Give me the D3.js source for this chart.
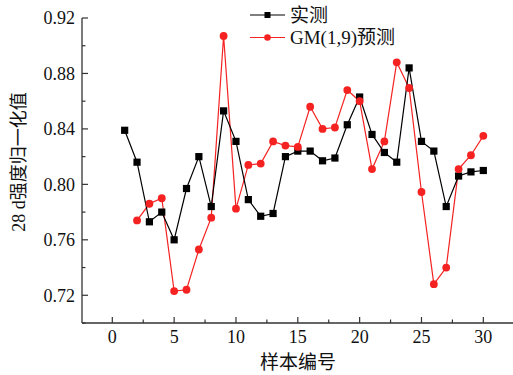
<!DOCTYPE html>
<html>
<head>
<meta charset="utf-8">
<script src="https://cdn.jsdelivr.net/npm/d3@7"></script>
<style>
  html, body { margin: 0; padding: 0; background: #fff; }
  svg { display: block; }
</style>
</head>
<body>
<svg id="chart" width="513" height="375"></svg>
<script>
// 样本编号
const samples = d3.range(1, 31);
// 实测 (样本 1-30)
const measured = [0.839, 0.816, 0.773, 0.780, 0.760, 0.797, 0.820, 0.784, 0.853, 0.831,
                  0.789, 0.777, 0.779, 0.820, 0.824, 0.824, 0.817, 0.819, 0.843, 0.863,
                  0.836, 0.823, 0.816, 0.884, 0.831, 0.824, 0.784, 0.806, 0.809, 0.810];
// GM(1,9)预测 (样本 2-30)
const predSamples = d3.range(2, 31);
const predicted = [0.774, 0.786, 0.790, 0.723, 0.724, 0.753, 0.776, 0.907, 0.7825,
                   0.814, 0.815, 0.831, 0.828, 0.827, 0.856, 0.840, 0.841, 0.868, 0.860,
                   0.811, 0.831, 0.888, 0.8695, 0.7945, 0.728, 0.740, 0.811, 0.821, 0.835];
const xTicks = [0, 5, 10, 15, 20, 25, 30];
const yTicks = [0.72, 0.76, 0.80, 0.84, 0.88, 0.92];
const seriesNames = ['实测', 'GM(1,9)预测'];

const FONT = '"Liberation Serif", "Times New Roman", Times, "DejaVu Serif", "Noto Sans CJK SC", serif';
const svg = d3.select('#chart').attr('font-family', FONT);
const RED = '#f52222';
const AX = '#333';

const x = d3.scaleLinear().domain([-2.45, 32.4]).range([82, 513]);
const y = d3.scaleLinear().domain([0.70, 0.92]).range([323, 18]);

// axes, ticks pointing inward
const gx = svg.append('g').attr('transform', `translate(0,${y(0.70)})`);
gx.append('line').attr('x1', x.range()[0]).attr('x2', x.range()[1]).attr('stroke', AX).attr('stroke-width', 1.3);
gx.selectAll('.maj').data(xTicks).enter().append('line')
  .attr('x1', d => x(d)).attr('x2', d => x(d)).attr('y1', 0).attr('y2', -6)
  .attr('stroke', AX).attr('stroke-width', 1.2);
gx.selectAll('.min').data(d3.range(-2.5, 33, 5).filter(v => v > -2.45)).enter().append('line')
  .attr('x1', d => x(d)).attr('x2', d => x(d)).attr('y1', 0).attr('y2', -3.5)
  .attr('stroke', AX).attr('stroke-width', 1.2);
gx.selectAll('text').data(xTicks).enter().append('text')
  .attr('x', d => x(d)).attr('y', 20).attr('text-anchor', 'middle')
  .attr('font-size', 18).attr('fill', '#111').text(d => d);

const gy = svg.append('g').attr('transform', `translate(${x.range()[0]},0)`);
gy.append('line').attr('y1', y(0.70)).attr('y2', y(0.92)).attr('stroke', AX).attr('stroke-width', 1.3);
gy.selectAll('.maj').data(yTicks).enter().append('line')
  .attr('y1', d => y(d)).attr('y2', d => y(d)).attr('x1', 0).attr('x2', 6)
  .attr('stroke', AX).attr('stroke-width', 1.2);
gy.selectAll('.min').data(d3.range(0.70, 0.921, 0.04).map(v => +v.toFixed(2))).enter().append('line')
  .attr('y1', d => y(d)).attr('y2', d => y(d)).attr('x1', 0).attr('x2', 3.5)
  .attr('stroke', AX).attr('stroke-width', 1.2);
gy.selectAll('text').data(yTicks).enter().append('text')
  .attr('x', -7).attr('y', d => y(d)).attr('dy', '0.35em').attr('text-anchor', 'end')
  .attr('font-size', 18).attr('fill', '#111').text(d => d.toFixed(2));

// axis titles
svg.append('text').attr('x', 298).attr('y', 369).attr('text-anchor', 'middle')
  .attr('font-size', 19).attr('fill', '#111').text('样本编号');
svg.append('text').attr('transform', 'translate(25,162) rotate(-90)').attr('text-anchor', 'middle')
  .attr('font-size', 18).attr('fill', '#111').text('28 d强度归一化值');

// series
const line = d3.line().x(d => x(d[0])).y(d => y(d[1]));
const mData = samples.map((s, i) => [s, measured[i]]);
const pData = predSamples.map((s, i) => [s, predicted[i]]);

svg.append('path').datum(pData).attr('d', line).attr('fill', 'none').attr('stroke', RED).attr('stroke-width', 1.2);
svg.append('path').datum(mData).attr('d', line).attr('fill', 'none').attr('stroke', '#000').attr('stroke-width', 1.2);

svg.selectAll('.pt-m').data(mData).enter().append('rect')
  .attr('x', d => x(d[0]) - 3.6).attr('y', d => y(d[1]) - 3.6)
  .attr('width', 7.2).attr('height', 7.2).attr('fill', '#000');
svg.selectAll('.pt-p').data(pData).enter().append('circle')
  .attr('cx', d => x(d[0])).attr('cy', d => y(d[1])).attr('r', 3.9).attr('fill', RED);

// legend
const lg = svg.append('g');
[['#000', 'rect'], [RED, 'circle']].forEach(([c, shape], i) => {
  const ly = 15 + i * 22.5;
  lg.append('line').attr('x1', 250).attr('x2', 285).attr('y1', ly).attr('y2', ly).attr('stroke', c).attr('stroke-width', 1.2);
  if (shape === 'rect') lg.append('rect').attr('x', 264.5).attr('y', ly - 3).attr('width', 6).attr('height', 6).attr('fill', c);
  else lg.append('circle').attr('cx', 267.5).attr('cy', ly).attr('r', 3.3).attr('fill', c);
  lg.append('text').attr('x', 290).attr('y', ly).attr('dy', '0.36em').attr('font-size', 19).attr('fill', '#111').text(seriesNames[i]);
});
</script>
</body>
</html>
